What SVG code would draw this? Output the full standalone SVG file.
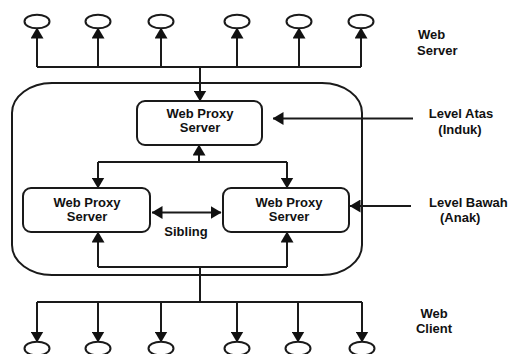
<svg xmlns="http://www.w3.org/2000/svg" width="511" height="354" viewBox="0 0 511 354">
<defs>
<marker id="ah" viewBox="0 0 11 13" markerWidth="11" markerHeight="13" refX="10.5" refY="6.5" orient="auto" markerUnits="userSpaceOnUse">
<path d="M0,0 L11,6.5 L0,13 z" fill="#111"/>
</marker>
<marker id="ahs" viewBox="0 0 11 13" markerWidth="11" markerHeight="13" refX="10.5" refY="6.5" orient="auto-start-reverse" markerUnits="userSpaceOnUse">
<path d="M0,0 L11,6.5 L0,13 z" fill="#111"/>
</marker>
</defs>
<style>
.ln{fill:none;stroke:#1a1a1a;stroke-width:2}
.arr{fill:none;stroke:#1a1a1a;stroke-width:2;marker-end:url(#ah)}
.box{fill:#fff;stroke:#1a1a1a;stroke-width:2}
.node{fill:#fff;stroke:#1a1a1a;stroke-width:2}
.t{font-family:"Liberation Sans",Arial,sans-serif;font-weight:bold;font-size:13px;fill:#111}
.c{text-anchor:middle}
</style>
<rect width="511" height="354" fill="#fff"/>
<g id="cluster">
<rect x="12" y="83" width="350" height="192" rx="40" ry="30" class="ln"/>
</g>
<g id="connectors">
<path class="ln" d="M37,67 H361"/>
<path class="arr" d="M37,67 V28"/>
<path class="arr" d="M98,67 V28"/>
<path class="arr" d="M161,67 V28"/>
<path class="arr" d="M237,67 V28"/>
<path class="arr" d="M299,67 V28"/>
<path class="arr" d="M361,67 V28"/>
<path class="arr" d="M200,67 V101"/>
<path class="arr" d="M199,162 V145"/>
<path class="ln" d="M98,162 H287"/>
<path class="arr" d="M98,162 V188"/>
<path class="arr" d="M287,162 V188"/>
<path class="ln" d="M152,212.5 H221" style="marker-start:url(#ahs);marker-end:url(#ah)"/>
<path class="ln" d="M98,267 H287"/>
<path class="arr" d="M98,267 V232"/>
<path class="arr" d="M287,267 V232"/>
<path class="ln" d="M200,267 V302"/>
<path class="ln" d="M37,302 H362"/>
<path class="arr" d="M37,302 V342"/>
<path class="arr" d="M98,302 V342"/>
<path class="arr" d="M161,302 V342"/>
<path class="arr" d="M237,302 V342"/>
<path class="arr" d="M298,302 V342"/>
<path class="arr" d="M362,302 V342"/>
<path class="arr" d="M413,118.5 H273"/>
<path class="arr" d="M411,206 H350"/>
</g>
<g id="web-servers">
<ellipse class="node" cx="37" cy="21.5" rx="12.5" ry="6.8"/>
<ellipse class="node" cx="98" cy="21.5" rx="12.5" ry="6.8"/>
<ellipse class="node" cx="161" cy="21.5" rx="12.5" ry="6.8"/>
<ellipse class="node" cx="237" cy="21.5" rx="12.5" ry="6.8"/>
<ellipse class="node" cx="299" cy="21.5" rx="12.5" ry="6.8"/>
<ellipse class="node" cx="361" cy="21.5" rx="12.5" ry="6.8"/>
</g>
<g id="web-clients">
<ellipse class="node" cx="37" cy="348.5" rx="12.5" ry="6.8"/>
<ellipse class="node" cx="98" cy="348.5" rx="12.5" ry="6.8"/>
<ellipse class="node" cx="161" cy="348.5" rx="12.5" ry="6.8"/>
<ellipse class="node" cx="237" cy="348.5" rx="12.5" ry="6.8"/>
<ellipse class="node" cx="298" cy="348.5" rx="12.5" ry="6.8"/>
<ellipse class="node" cx="362" cy="348.5" rx="12.5" ry="6.8"/>
</g>
<g id="proxy-parent">
<rect class="box" x="137" y="101" width="125" height="44" rx="8"/>
<text class="t c" x="200" y="118">Web Proxy</text>
<text class="t c" x="200" y="132">Server</text>
</g>
<g id="proxy-child-left">
<rect class="box" x="23" y="188" width="127" height="44" rx="8"/>
<text class="t c" x="87" y="207">Web Proxy</text>
<text class="t c" x="87" y="221">Server</text>
</g>
<g id="proxy-child-right">
<rect class="box" x="223" y="188" width="126" height="44" rx="8"/>
<text class="t c" x="289" y="207">Web Proxy</text>
<text class="t c" x="289" y="221">Server</text>
</g>
<g id="labels">
<text class="t c" x="186" y="236">Sibling</text>
<text class="t" x="418" y="39">Web</text>
<text class="t" x="417" y="55">Server</text>
<text class="t c" x="461" y="118">Level Atas</text>
<text class="t c" x="460" y="134">(Induk)</text>
<text class="t" x="429" y="207">Level Bawah</text>
<text class="t" x="440" y="222">(Anak)</text>
<text class="t c" x="434" y="318">Web</text>
<text class="t c" x="434" y="333">Client</text>
</g>
</svg>
